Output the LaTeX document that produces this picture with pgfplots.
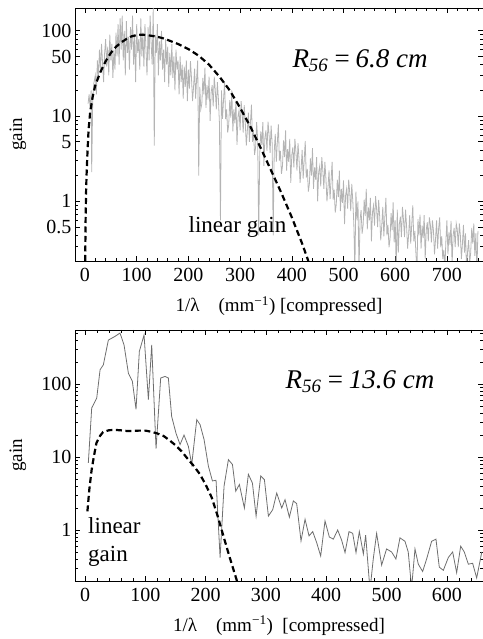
\documentclass[border=0pt]{standalone}
\usepackage{fontspec}
\setmainfont{Liberation Serif}
\usepackage{pgfplots}
\pgfplotsset{compat=1.18}

\definecolor{noisegray}{RGB}{180,180,180}
\definecolor{linegray}{RGB}{110,110,110}

\begin{document}
\begin{tikzpicture}
\path[use as bounding box] (0,0) rectangle (482pt,639pt);

% ---------------- top panel: R56 = 6.8 cm
\begin{axis}[
  scale only axis,
  clip mode=individual,
  ymode=log,
  at={(75pt,378pt)}, anchor=south west,
  width=408pt, height=253pt,
  xmin=-19.3, xmax=769.8,
  ymin=0.2, ymax=185,
  tick align=inside,
  major tick length=5pt,
  minor tick length=3pt,
  tick style={black, line width=0.6pt},
  axis line style={line width=0.8pt},
  xticklabel style={font=\fontsize{20}{22}\selectfont, yshift=-4pt},
  yticklabel style={font=\fontsize{20}{22}\selectfont},
  xlabel style={font=\fontsize{19}{22}\selectfont, at={(axis description cs:0.5,-0.178)}, anchor=center},
  xlabel={1/λ\quad(mm\textsuperscript{−1}) [compressed]},
  xtick={0,100,200,300,400,500,600,700},
  xticklabels={0,100,200,300,400,500,600,700},
  minor xtick={20,40,60,80,120,140,160,180,220,240,260,280,320,340,360,380,420,440,460,480,520,540,560,580,620,640,660,680,720,740,760},
  ytick={0.5,1,5,10,50,100},
  yticklabels={0.5,1,5,10,50,100},
  minor ytick={0.3,0.4,0.6,0.7,0.8,0.9,2,3,4,6,7,8,9,20,30,40,60,70,80,90},
]
\addplot[noisegray, line width=0.8pt] coordinates {
(6,14) (8,18) (10,12) (12,20) (13,2.2) (15,16) (17,24) (20,30) (22,18) (24,45)
(26,28) (28,60) (30,35) (32,70) (34,42) (36,25) (38,55) (40,80) (42,38) (44,65)
(46,30) (48,90) (50,45) (52,70) (54,28) (56,60) (58,35) (60,95) (62,50) (64,120)
(66,40) (68,140) (70,60) (72,150) (74,45) (76,100) (78,30) (80,130) (82,55) (84,85)
(86,35) (88,110) (90,60) (92,150) (94,40) (96,90) (98,25) (100,120) (102,55) (104,80)
(106,35) (108,140) (110,50) (112,95) (114,38) (116,120) (118,60) (120,30) (122,110) (124,45)
(126,150) (128,70) (130,40) (132,185) (134,4.5) (136,90) (138,55) (140,120) (142,30) (144,75)
(146,45) (148,100) (150,35) (152,60) (154,25) (156,80) (158,40) (160,65) (162,22) (164,55)
(166,30) (168,70) (170,28) (172,50) (174,20) (176,60) (178,35) (180,45) (182,18) (184,50)
(186,25) (188,40) (190,16) (192,38) (194,22) (196,45) (198,15)
(200,35) (202,21) (204,44) (206,28) (208,15) (210,22) (212,36) (214,16) (216,28) (218,45)
(220,2.0) (222,22) (224,12) (226,14) (228,28) (230,18) (232,37) (234,12.5) (236,23) (238,15.6)
(240,29) (242,8.8) (244,19) (246,23) (248,13) (250,29) (252,20) (254,12) (256,25) (258,16)
(260,8.4) (262,0.6) (264,20) (266,9.3) (268,15.6) (270,25) (272,9.2) (274,12) (276,6.4) (278,7.9)
(280,15.4) (282,9.6) (284,20) (286,6.6) (288,12) (290,8.2) (292,15.2) (294,4.6) (296,9.9) (298,11.7)
(300,6.8) (302,15) (304,10.7) (306,6.4) (308,13.4) (310,8.5) (312,4.5) (314,6.7) (316,11) (318,5)
(320,8.4) (322,13.6) (324,5) (326,6.5) (328,3.5) (330,4.3) (332,8.5) (334,5.3) (336,0.4) (338,3.6)
(340,6.6) (342,4.6) (344,8.5) (346,2.6) (348,5.6) (350,6.8) (352,3.9) (354,8.6) (356,6.1) (358,3.7)
(360,7.7) (362,4.8) (364,0.4) (366,3.8) (368,6.2) (370,2.9) (372,4.9) (374,8) (376,3) (378,3.9)
(380,2.1) (382,2.6) (384,5.2) (386,3.3) (388,6.8) (390,2.3) (392,4.1) (394,2.9) (396,5.4) (398,1.65)
(400,3.5) (402,4.3) (404,2.5) (406,5.4) (408,3.8) (410,2.3) (412,4.8) (414,3.1) (416,1.65) (418,2.4)
(420,4) (422,1.85) (424,3.1) (426,5.1) (428,1.9) (430,2.4) (432,1.3) (434,1.6) (436,3.2) (438,2.0)
(440,4.2) (442,1.4) (444,2.5) (446,1.8) (448,3.3) (450,1.0) (452,2.2) (454,2.6) (456,1.5) (458,3.3)
(460,2.3) (462,1.4) (464,2.9) (466,1.85) (468,1.0) (470,1.45) (472,2.3) (474,1.06) (476,1.8) (478,2.9)
(480,1.05) (482,1.37) (484,0.74) (486,0.92) (488,1.8) (490,1.12) (492,2.3) (494,0.77) (496,1.4) (498,0.96)
(500,1.76) (502,0.54) (504,1.17) (506,1.4) (508,0.82) (510,1.8) (512,1.27) (514,0.77) (516,1.6) (518,1.0)
(520,0.54) (522,0.15) (524,1.3) (526,0.6) (528,1.0) (530,0.15) (532,0.6) (534,0.79) (536,0.42) (538,0.53)
(540,1.05) (542,0.67) (544,1.4) (546,0.47) (548,0.85) (550,0.6) (552,1.1) (554,0.34) (556,0.74) (558,0.89)
(560,0.52) (562,1.15) (564,0.82) (566,0.5) (568,1.04) (570,0.66) (572,0.35) (574,0.52) (576,0.86) (578,0.39)
(580,0.66) (582,1.1) (584,0.4) (586,0.53) (588,0.29) (590,0.36) (592,0.73) (594,0.46) (596,0.97) (598,0.33)
(600,0.6) (602,0.15) (604,0.8) (606,0.25) (608,0.54) (610,0.66) (612,0.38) (614,0.86) (616,0.61) (618,0.38)
(620,0.8) (622,0.51) (624,0.28) (626,0.41) (628,0.69) (630,0.32) (632,0.54) (634,0.9) (636,0.34) (638,0.45)
(640,0.25) (642,0.15) (644,0.62) (646,0.4) (648,0.7) (650,0.28) (652,0.52) (654,0.37) (656,0.69) (658,0.21)
(660,0.46) (662,0.57) (664,0.34) (666,0.65) (668,0.53) (670,0.33) (672,0.6) (674,0.45) (676,0.24) (678,0.36)
(680,0.6) (682,0.28) (684,0.48) (686,0.65) (688,0.29) (690,0.39) (692,0.21) (694,0.27) (696,0.16) (698,0.34)
(700,0.6) (702,0.24) (704,0.44) (706,0.31) (708,0.59) (710,0.18) (712,0.4) (714,0.49) (716,0.29) (718,0.55)
(720,0.47) (722,0.29) (724,0.55) (726,0.4) (728,0.21) (730,0.32) (732,0.53) (734,0.25) (736,0.42) (738,0.15)
(740,0.26) (742,0.35) (744,0.19) (746,0.25) (748,0.49) (750,0.32) (752,0.55) (754,0.23) (756,0.42) (758,0.15)
(760,0.45)
};
\addplot[black, line width=2.2pt, dash pattern=on 6pt off 3.5pt] coordinates {
(0.5,0.2) (1,0.5) (2,1.2) (3,2) (5,4) (7,7) (10,11) (15,17) (20,23) (30,33)
(40,44) (50,55) (60,65) (70,73) (80,80) (90,86) (100,89) (110,90) (120,89) (130,87)
(140,85) (150,82) (160,78) (180,70) (200,61) (220,51) (240,40) (260,29) (280,20) (300,12.5)
(320,7.5) (340,4.2) (360,2.3) (380,1.25) (400,0.65) (420,0.32) (432,0.2)
};
\node[font=\fontsize{27}{30}\selectfont\itshape] at (axis cs:532,45)
  {R\textsubscript{56}\,=\,6.8 cm};
\node[font=\fontsize{23}{27}\selectfont] at (axis cs:295,0.5) {linear gain};
\node[font=\fontsize{19}{22}\selectfont, rotate=90] at (axis description cs:-0.140,0.5) {gain};
\end{axis}

% ---------------- bottom panel: R56 = 13.6 cm
\begin{axis}[
  scale only axis,
  clip mode=individual,
  ymode=log,
  at={(75pt,58pt)}, anchor=south west,
  width=408pt, height=251pt,
  xmin=-16.6, xmax=660,
  ymin=0.2, ymax=550,
  tick align=inside,
  major tick length=5pt,
  minor tick length=3pt,
  tick style={black, line width=0.6pt},
  axis line style={line width=0.8pt},
  xticklabel style={font=\fontsize{20}{22}\selectfont, yshift=-4pt},
  yticklabel style={font=\fontsize{20}{22}\selectfont},
  xlabel style={font=\fontsize{19}{22}\selectfont, at={(axis description cs:0.5,-0.178)}, anchor=center},
  xlabel={1/λ\quad(mm\textsuperscript{−1})\ \ [compressed]},
  xtick={0,100,200,300,400,500,600},
  xticklabels={0,100,200,300,400,500,600},
  minor xtick={20,40,60,80,120,140,160,180,220,240,260,280,320,340,360,380,420,440,460,480,520,540,560,580,620,640},
  ytick={1,10,100},
  yticklabels={1,10,100},
  minor ytick={0.3,0.4,0.5,0.6,0.7,0.8,0.9,2,3,4,5,6,7,8,9,20,30,40,50,60,70,80,90,200,300,400,500},
]
\addplot[linegray, line width=0.8pt] coordinates {
(5.5,8.3) (11.1,47) (19.4,64) (25,157) (30.4,183) (38.7,400) (49.8,450) (58,500) (64.7,344) (71.9,141)
(78.5,109) (84.6,45) (90.1,280) (97.9,470) (105.1,61) (110.6,344) (117.8,13) (125.5,121) (132.7,127) (138.2,121)
(143.7,36) (151,21) (157.6,14.8) (164.2,20) (171.4,14) (177,7.9) (185.3,32.5) (190.8,27.8) (197.4,17.4) (204.6,7.5)
(211.3,4.7) (217.3,4.8) (224,0.42) (230.6,4) (237.8,9.2) (244.5,7.9) (250,3.4) (256,4.2) (264.3,2.0) (270.9,5.8)
(277.6,4.4) (283.7,1.55) (291.4,5.5) (297.5,4.9) (304.1,1.55) (311.3,1.9) (317.9,3.2) (326.2,2.0) (331.7,2.6) (338.9,1.5)
(345.5,2.5) (351,2.3) (358.2,0.71) (364.9,1.4) (371.5,0.83) (377.6,0.95) (384.2,0.67) (390.8,0.44) (398,1.33) (405.2,0.8)
(411.8,0.75) (419,1.0) (425.7,0.72) (431.2,0.49) (437.8,0.95) (443.9,0.9) (449.4,0.49) (454.9,0.95) (461.6,0.47) (465.4,0.85)
(472.6,0.15) (478,0.4) (483.6,0.9) (491.9,0.33) (500.1,0.55) (508.4,0.5) (515.6,0.4) (522.3,0.78) (530.6,0.7) (536,0.5)
(541.6,0.16) (547.2,0.55) (552.7,0.34) (559.9,0.27) (566.5,0.4) (574.8,0.7) (582,0.75) (587.5,0.31) (594.2,0.28) (602.5,0.42)
(609.7,0.5) (616.3,0.26) (623,0.6) (629,0.5) (635.7,0.34) (642.8,0.35) (649.5,0.22) (658,0.5)
};
\addplot[black, line width=2.2pt, dash pattern=on 6pt off 3.5pt] coordinates {
(4,1.8) (7,3.5) (11,6.7) (15,10.5) (19,15.6) (25,19.5) (30,22) (40,23.3) (50,23.5) (60,23.2)
(70,22.7) (80,22.8) (90,23) (100,23) (110,22.2) (120,21) (130,19.5) (140,17) (150,14.5) (160,12)
(170,9.5) (180,7.6) (190,5.9) (200,4.2) (210,2.8) (220,1.55) (230,0.8) (240,0.42) (252,0.2)
};
\node[font=\fontsize{27}{30}\selectfont\itshape] at (axis cs:456,108)
  {R\textsubscript{56}\,=\,13.6 cm};
\node[font=\fontsize{23}{28}\selectfont, align=left, anchor=west, inner sep=0pt] at (axis cs:5,0.69)
  {linear\\gain};
\node[font=\fontsize{19}{22}\selectfont, rotate=90] at (axis description cs:-0.140,0.5) {gain};
\end{axis}
\end{tikzpicture}
\end{document}
